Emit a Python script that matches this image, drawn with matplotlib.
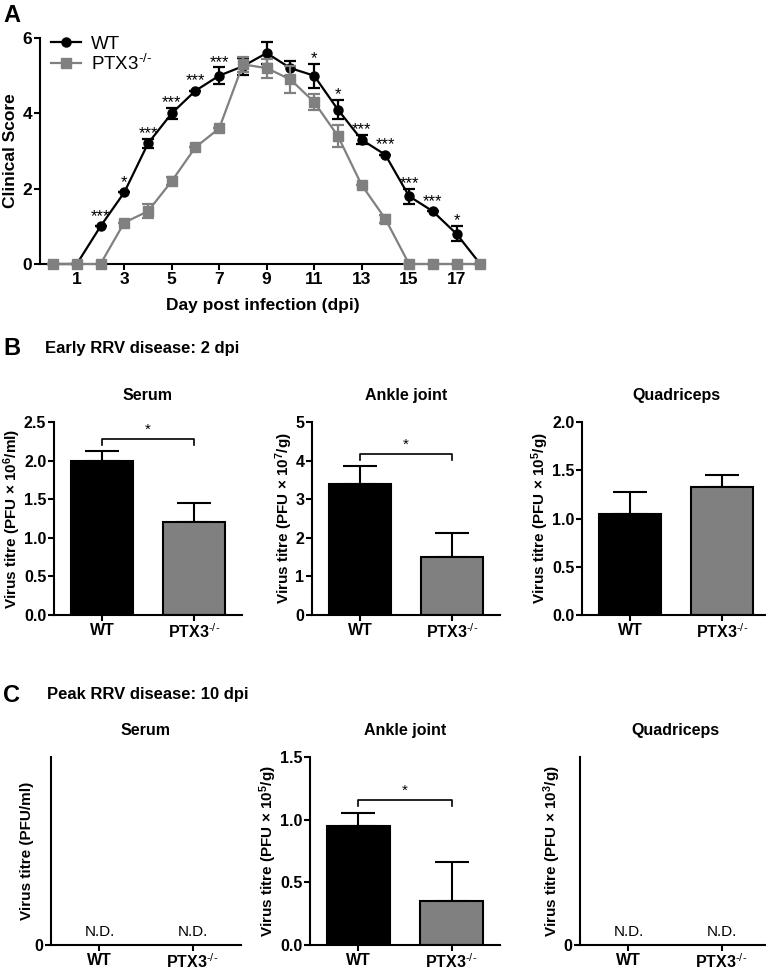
import numpy as np
import matplotlib
matplotlib.use("Agg")
import matplotlib.pyplot as plt
from matplotlib.ticker import FormatStrFormatter

plt.rcParams['font.family'] = ['Liberation Sans', 'DejaVu Sans']
plt.rcParams['mathtext.fontset'] = 'custom'
plt.rcParams['mathtext.rm'] = 'Liberation Sans'
plt.rcParams['mathtext.bf'] = 'Liberation Sans:bold'
plt.rcParams['mathtext.it'] = 'Liberation Sans:italic'
plt.rcParams['mathtext.default'] = 'regular'

GREY = '#808080'
KO = 'PTX3$^{\\text{-/-}}$'

# ---- panel A: clinical score ----
days = list(range(0, 19))
wt_score = [0, 0, 1.0, 1.9, 3.2, 4.0, 4.6, 5.0, 5.25, 5.6, 5.2, 5.0, 4.1, 3.3, 2.9, 1.8, 1.4, 0.8, 0]
wt_err = [0, 0, 0, 0, 0.12, 0.15, 0, 0.22, 0.22, 0.3, 0.2, 0.32, 0.25, 0.12, 0, 0.2, 0, 0.2, 0]
ko_score = [0, 0, 0, 1.1, 1.4, 2.2, 3.1, 3.6, 5.3, 5.2, 4.9, 4.3, 3.4, 2.1, 1.2, 0, 0, 0, 0]
ko_err = [0, 0, 0, 0, 0.18, 0.1, 0, 0, 0.2, 0.25, 0.35, 0.2, 0.3, 0, 0.1, 0, 0, 0, 0]
star_days = [2, 3, 4, 5, 6, 7, 11, 12, 13, 14, 15, 16, 17]
star_marks = ['***', '*', '***', '***', '***', '***', '*', '*', '***', '***', '***', '***', '*']

# ---- panels B and C: virus titres ----
groups = ['WT', KO]
tissues = ['Serum', 'Ankle joint', 'Quadriceps']

early_mean = [[2.0, 1.2], [3.4, 1.5], [1.05, 1.33]]
early_err = [[0.13, 0.25], [0.45, 0.63], [0.22, 0.12]]
early_ylim = [2.5, 5, 2.0]
early_step = [0.5, 1, 0.5]
early_fmt = ['%.1f', '%d', '%.1f']
early_ylabel = ['Virus titre (PFU \u00d7 10$^{\\mathbf{6}}$/ml)',
                'Virus titre (PFU \u00d7 10$^{\\mathbf{7}}$/g)',
                'Virus titre (PFU \u00d7 10$^{\\mathbf{5}}$/g)']
early_sig = [(2.28, 2.2, '*'), (4.17, 4.02, '*'), None]

peak_mean = [None, [0.95, 0.35], None]
peak_err = [None, [0.1, 0.31], None]
peak_ylim = [1.0, 1.5, 1.0]
peak_ylabel = ['Virus titre (PFU/ml)',
               'Virus titre (PFU \u00d7 10$^{\\mathbf{5}}$/g)',
               'Virus titre (PFU \u00d7 10$^{\\mathbf{3}}$/g)']
peak_sig = [None, (1.16, 1.11, '*'), None]

W, H = 766, 972


def px_axes(fig, left, top, right, bottom):
    return fig.add_axes([left / W, 1 - bottom / H, (right - left) / W, (bottom - top) / H])


def style_axes(ax, tick_size):
    for side in ['top', 'right']:
        ax.spines[side].set_visible(False)
    for side in ['left', 'bottom']:
        ax.spines[side].set_linewidth(1.5)
    ax.tick_params(direction='out', width=1.5, length=4, pad=1.5, labelsize=tick_size)
    for lab in ax.get_xticklabels() + ax.get_yticklabels():
        lab.set_fontweight('bold')


def plot_clinical(fig):
    ax = px_axes(fig, 40, 38, 485, 264)
    ax.errorbar(days, wt_score, yerr=wt_err, fmt='none', ecolor='black',
                elinewidth=1.6, capsize=4, capthick=1.6, clip_on=False, zorder=3)
    ax.plot(days, wt_score, '-o', color='black', ms=6.5, lw=1.6, label='WT',
            clip_on=False, zorder=3)
    ax.errorbar(days, ko_score, yerr=ko_err, fmt='none', ecolor=GREY,
                elinewidth=1.6, capsize=4, capthick=1.6, clip_on=False, zorder=4)
    ax.plot(days, ko_score, '-s', color=GREY, ms=6.5, lw=1.6, label=KO,
            clip_on=False, zorder=4)
    for d, s in zip(star_days, star_marks):
        top = max(wt_score[d] + wt_err[d], wt_score[d] + 0.12)
        ax.text(d, top + 0.02, s, ha='center', va='baseline', fontsize=12)
    ax.set_xlim(-0.55, 18.2)
    ax.set_ylim(0, 6)
    ax.set_xticks(range(1, 18, 2))
    ax.set_yticks([0, 2, 4, 6])
    ax.set_xlabel('Day post infection (dpi)', fontsize=12.5, fontweight='bold', labelpad=8)
    ax.set_ylabel('Clinical Score', fontsize=12.5, fontweight='bold', labelpad=3)
    style_axes(ax, 12.5)
    ax.legend(loc='upper left', bbox_to_anchor=(0.0, 1.06), frameon=False, fontsize=13.5,
              handlelength=1.6, handletextpad=0.5, labelspacing=0.05, borderaxespad=0.2)


def plot_bars(ax, means, errs, ymax, ylabel, sig, title):
    x = np.arange(2)
    if means is not None:
        ax.bar(x, means, width=0.67, color=['black', GREY], edgecolor='black', linewidth=1.5,
               zorder=2)
        ax.errorbar(x, means, yerr=[[0, 0], errs], fmt='none', ecolor='black',
                    elinewidth=1.5, capsize=12, capthick=1.5, zorder=1)
    else:
        for xi in x:
            ax.text(xi, ymax * 0.03, 'N.D.', ha='center', va='bottom', fontsize=11)
    if sig is not None:
        y_line, y_end, mark = sig
        ax.plot([0, 0, 1, 1], [y_end, y_line, y_line, y_end], color='black', lw=1.2)
        ax.text(0.5, y_line + ymax * 0.012, mark, ha='center', va='bottom', fontsize=11)
    ax.set_xlim(-0.52, 1.52)
    ax.set_ylim(0, ymax)
    ax.set_xticks(x)
    ax.set_xticklabels(groups)
    ax.set_ylabel(ylabel, fontsize=11, fontweight='bold', labelpad=0.5)
    ax.set_title(title, fontsize=11.5, fontweight='bold', pad=16)
    style_axes(ax, 11.5)


fig = plt.figure(figsize=(W / 100, H / 100), dpi=100)

plot_clinical(fig)
fig.text(3 / W, 1 - 15 / H, 'A', fontsize=17, fontweight='bold', va='center')

fig.text(3 / W, 1 - 348 / H, 'B', fontsize=17, fontweight='bold', va='center')
fig.text(45 / W, 1 - 348 / H, 'Early RRV disease: 2 dpi', fontsize=12, fontweight='bold',
         va='center')
early_lefts = [54, 312, 582]
for i in range(3):
    ax = px_axes(fig, early_lefts[i], 422, early_lefts[i] + 188, 615)
    plot_bars(ax, early_mean[i], early_err[i], early_ylim[i], early_ylabel[i], early_sig[i],
              tissues[i])
    ax.set_yticks(np.arange(0, early_ylim[i] + 1e-6, early_step[i]))
    ax.yaxis.set_major_formatter(FormatStrFormatter(early_fmt[i]))
    style_axes(ax, 11.5)

fig.text(3 / W, 1 - 695 / H, 'C', fontsize=17, fontweight='bold', va='center')
fig.text(47 / W, 1 - 695 / H, 'Peak RRV disease: 10 dpi', fontsize=12, fontweight='bold',
         va='center')
peak_lefts = [51, 310, 580]
for i in range(3):
    ax = px_axes(fig, peak_lefts[i], 757, peak_lefts[i] + 190, 945)
    plot_bars(ax, peak_mean[i], peak_err[i], peak_ylim[i], peak_ylabel[i], peak_sig[i],
              tissues[i])
    if peak_mean[i] is None:
        ax.set_yticks([0])
        ax.set_yticklabels(['0'])
    else:
        ax.set_yticks([0, 0.5, 1.0, 1.5])
        ax.yaxis.set_major_formatter(FormatStrFormatter('%.1f'))
    style_axes(ax, 11.5)

fig.savefig('out.png', dpi=100)
